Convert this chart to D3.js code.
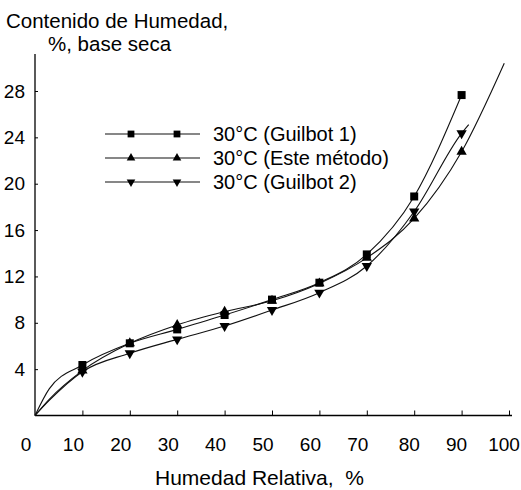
<!DOCTYPE html>
<html><head><meta charset="utf-8">
<script src="https://cdn.jsdelivr.net/npm/d3@7"></script>
<style>
html,body{margin:0;padding:0;background:#fff;}
svg{display:block;font-family:"Liberation Sans",Arial,Helvetica,sans-serif;}
</style></head>
<body>
<svg id="chart" width="521" height="490"></svg>
<script>
// ---- data ----
const humedadRelativa = [10, 20, 30, 40, 50, 60, 70, 80, 90];
const guilbot1   = [4.36, 6.23, 7.43, 8.67, 10.0, 11.46, 13.9, 18.9, 27.65];
const esteMetodo = [3.87, 6.23, 7.81, 8.96, 9.9, 11.4, 13.6, 17.0, 22.76];
const guilbot2   = [3.78, 5.37, 6.57, 7.72, 9.1, 10.6, 12.9, 17.6, 24.35];
// fitted curve anchors (origin / start bend / end of drawn curve)
const g1Start = [[0, 0], [3, 2.3]];
const emStart = [[0, 0], [3, 1.4]];
const emEnd   = [[99, 30.4]];
const g2Start = [[0, 0], [3, 1.3]];
const g2End   = [[91.5, 25.1]];
const xTicks = [0, 10, 20, 30, 40, 50, 60, 70, 80, 90, 100];
const yTicks = [4, 8, 12, 16, 20, 24, 28];
const seriesNames = ["30°C (Guilbot 1)", "30°C (Este método)", "30°C (Guilbot 2)"];

const svg = d3.select("#chart");
const x = d3.scaleLinear().domain([0, 100]).range([35, 509]);
const y = d3.scaleLinear().domain([0, 28]).range([415.5, 91]);

// axes
const xAxis = d3.axisBottom(x).tickValues(xTicks).tickSizeInner(-5).tickSizeOuter(0).tickFormat("");
const gx = svg.append("g").attr("transform", `translate(0,${y(0)})`).call(xAxis);
gx.select(".domain").remove();
gx.selectAll(".tick line").attr("stroke", "#000").attr("stroke-width", 1);
svg.append("line").attr("x1", x(0)).attr("x2", x(100) + 3).attr("y1", y(0)).attr("y2", y(0))
  .attr("stroke", "#000").attr("stroke-width", 1.3);
gx.selectAll(".tick").filter(d => d === 0).remove();

const yAxis = d3.axisLeft(y).tickValues(yTicks).tickSizeInner(-3).tickSizeOuter(0).tickFormat("");
const gy = svg.append("g").attr("transform", `translate(${x(0)},0)`).call(yAxis);
gy.select(".domain").remove();
gy.selectAll(".tick line").attr("stroke", "#000");
svg.append("line").attr("x1", x(0)).attr("x2", x(0)).attr("y1", y(0)).attr("y2", 54)
  .attr("stroke", "#000").attr("stroke-width", 1.3);

// tick labels
svg.append("g").selectAll("text").data(xTicks).join("text")
  .attr("x", d => x(d) - (d >= 80 ? 5 : 9)).attr("y", 451)
  .attr("text-anchor", "middle").attr("font-size", 19).attr("fill", "#000")
  .text(d => d);
svg.append("g").selectAll("text").data(yTicks).join("text")
  .attr("x", 25).attr("y", d => y(d)).attr("dy", "0.35em")
  .attr("text-anchor", "end").attr("font-size", 19).attr("fill", "#000")
  .text(d => d);

// titles
svg.append("text").attr("x", 6).attr("y", 28).attr("font-size", 20.5).text("Contenido de Humedad,");
svg.append("text").attr("x", 48).attr("y", 51).attr("font-size", 20.5).text("%, base seca");
svg.append("text").attr("x", 155).attr("y", 485).attr("font-size", 21).attr("xml:space", "preserve")
  .style("white-space", "pre").text("Humedad Relativa,  %");

// curves
const line = d3.line().x(d => x(d[0])).y(d => y(d[1])).curve(d3.curveMonotoneX);
const pts = vals => humedadRelativa.map((h, i) => [h, vals[i]]);
const curves = [
  g1Start.concat(pts(guilbot1)),
  emStart.concat(pts(esteMetodo), emEnd),
  g2Start.concat(pts(guilbot2), g2End)
];
svg.append("g").selectAll("path").data(curves).join("path")
  .attr("d", line).attr("fill", "none").attr("stroke", "#111").attr("stroke-width", 1.1);

// markers
const sq = d3.symbol().type(d3.symbolSquare).size(64);
const tri = d3.symbol().type(d3.symbolTriangle).size(46);
function drawMarkers(vals, kind) {
  svg.append("g").selectAll("path").data(pts(vals)).join("path")
    .attr("transform", d => `translate(${x(d[0])},${y(d[1])})` + (kind === "down" ? " rotate(180)" : ""))
    .attr("d", kind === "sq" ? sq : tri).attr("fill", "#000");
}
drawMarkers(guilbot1, "sq");
drawMarkers(esteMetodo, "up");
drawMarkers(guilbot2, "down");

// legend
const kinds = ["sq", "up", "down"];
const legY = [134, 158, 182];
seriesNames.forEach((name, i) => {
  const g = svg.append("g");
  g.append("line").attr("x1", 105).attr("x2", 200).attr("y1", legY[i]).attr("y2", legY[i])
    .attr("stroke", "#111").attr("stroke-width", 1.1);
  [131, 177].forEach(mx => {
    g.append("path").attr("d", kinds[i] === "sq" ? d3.symbol().type(d3.symbolSquare).size(46)() : d3.symbol().type(d3.symbolTriangle).size(32)())
      .attr("transform", `translate(${mx},${legY[i]})` + (kinds[i] === "down" ? " rotate(180)" : ""))
      .attr("fill", "#000");
  });
  g.append("text").attr("x", 213).attr("y", legY[i]).attr("dy", "0.35em")
    .attr("font-size", 20).text(name);
});
</script>
</body></html>
